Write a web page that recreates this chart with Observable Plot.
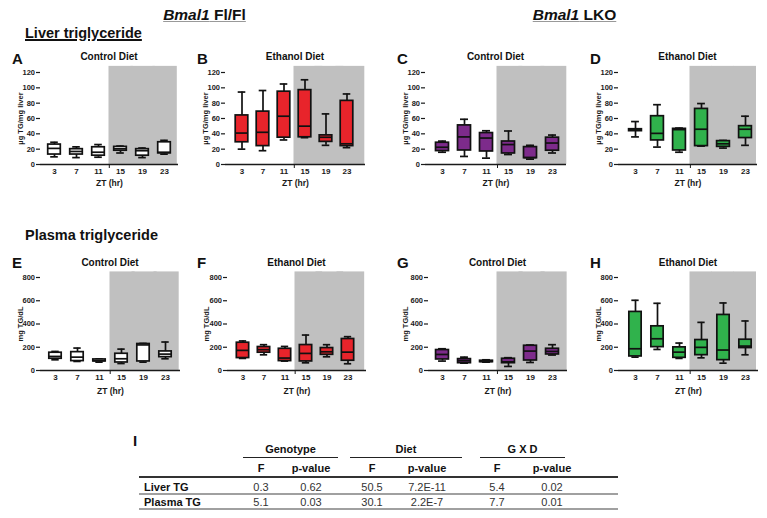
<!DOCTYPE html>
<html>
<head>
<meta charset="utf-8">
<script src="https://cdn.jsdelivr.net/npm/d3@7"></script>
<script src="https://cdn.jsdelivr.net/npm/@observablehq/plot@0.6"></script>
<style>
  html, body { margin: 0; padding: 0; background: #fff; }
  #wrap { position: relative; width: 767px; height: 518px; overflow: hidden; background: #fff;
          font-family: "Liberation Sans", Arial, Helvetica, sans-serif; color: #111; }
  .abs { position: absolute; white-space: nowrap; }
  .c { transform: translate(-50%, -50%); }
  .l { transform: translate(0, -50%); }
  .panel svg { overflow: visible; }
</style>
</head>
<body>
<div id="wrap"></div>
<script>
// ---------------- DATA ----------------
const ZT = ["3", "7", "11", "15", "19", "23"];
const darkZT = ["15", "19", "23"];

// box summaries per ZT: [min, q1, median, q3, max]
const liverFloxControl = [[10,13,21,26,29],[9,13,17,20,23],[9.5,11.5,16,22.5,26],[15,18,20.5,23,24],[9,11.5,18,20,21.5],[13.5,14.5,16,29,31.5]];
const liverFloxEthanol = [[20,29,41,64,94.5],[18,24,42,69,96.5],[32,35,63,95,105],[35,35.5,50,97,110.5],[25,29.5,35.5,38,66],[22,24,27,83,92]];
const liverLkoControl  = [[16,17.5,22.5,28.4,30.5],[10.5,18.3,36,51,59],[8.3,17,34.5,41,44],[13,14.4,26,30,43.7],[7,8.3,9,22.7,25],[15,18,28,35,38.4]];
const liverLkoEthanol  = [[36,43.5,45,46,56],[22.7,31.4,40.6,63,78],[16,18.3,45.5,46.5,47.5],[24,24,46,72.5,79.5],[21.4,23,27,30.5,31.4],[25,34.5,46,50,63]];
const plasmaFloxControl = [[92,101,121,153,164],[78,81,115,158,193],[72,78,85,95,100],[60,69,101,144,184],[72,78,220,228,233],[101,115,141,164,245]];
const plasmaFloxEthanol = [[104,107,173,239,254],[135,153,179,202,222],[81,81,107,187,207],[66,78,147,219,305],[118,135,161,193,222],[58,84,158,271,291]];
const plasmaLkoControl  = [[81,95,138,176,187],[63,63,84,98,115],[72,72,78,84,92],[35,63,75,101,110],[69,86,167,213,219],[133,138,164,187,222]];
const plasmaLkoEthanol  = [[115,121,187,504,604],[181,201,273,380,578],[104,109,158,199,236],[109,132,199,262,414],[63,89,176,478,581],[135,193,210,265,426]];

const liverTicks = [0, 20, 40, 60, 80, 100, 120];
const plasmaTicks = [0, 200, 400, 600, 800];

// ANOVA table
const anovaGroups = ["Genotype", "Diet", "G X D"];
const anovaSub = ["F", "p-value", "F", "p-value", "F", "p-value"];
const anovaRows = ["Liver TG", "Plasma TG"];
const liverStats = ["0.3", "0.62", "50.5", "7.2E-11", "5.4", "0.02"];
const plasmaStats = ["5.1", "0.03", "30.1", "2.2E-7", "7.7", "0.01"];

// ---------------- LAYOUT / STYLE ----------------
const FONT = '"Liberation Sans", Arial, Helvetica, sans-serif';
const rows = [
  {top: 72, bottom: 164, max: 120, shadeTop: 128, ticks: liverTicks, ylabel: "µg TG/mg liver", xlabDy: 21, titleY: 56, letterY: 58},
  {top: 277, bottom: 370, max: 800, shadeTop: 848, ticks: plasmaTicks, ylabel: "mg TG/dL", xlabDy: 23, titleY: 262, letterY: 262}
];
const panels = [
  {row: 0, letter: "A", title: "Control Diet", values: liverFloxControl, fill: "#ffffff", axis: 40,  right: 178, first: 53,    last: 165,   ylabX: 20,  letterX: 12},
  {row: 0, letter: "B", title: "Ethanol Diet", values: liverFloxEthanol, fill: "#e8242b", axis: 225, right: 365, first: 240,   last: 347,   ylabX: 205, letterX: 197},
  {row: 0, letter: "C", title: "Control Diet", values: liverLkoControl,  fill: "#7d2b8b", axis: 425, right: 566, first: 441.7, last: 551.7, ylabX: 405, letterX: 397},
  {row: 0, letter: "D", title: "Ethanol Diet", values: liverLkoEthanol,  fill: "#30b24c", axis: 618, right: 757, first: 635,   last: 746.7, ylabX: 598, letterX: 590},
  {row: 1, letter: "E", title: "Control Diet", values: plasmaFloxControl, fill: "#ffffff", axis: 40,  right: 180, first: 53,    last: 166,   ylabX: 20,  letterX: 12},
  {row: 1, letter: "F", title: "Ethanol Diet", values: plasmaFloxEthanol, fill: "#e8242b", axis: 227, right: 366, first: 240.7, last: 349,   ylabX: 206, letterX: 197},
  {row: 1, letter: "G", title: "Control Diet", values: plasmaLkoControl,  fill: "#7d2b8b", axis: 428, right: 567, first: 441.7, last: 552.3, ylabX: 405, letterX: 397},
  {row: 1, letter: "H", title: "Ethanol Diet", values: plasmaLkoEthanol,  fill: "#30b24c", axis: 618, right: 758, first: 633.3, last: 747.3, ylabX: 598, letterX: 590}
];

const wrap = document.getElementById("wrap");
function addText(html, x, y, style, cls) {
  const d = document.createElement("div");
  d.className = "abs " + (cls || "c");
  d.style.left = x + "px";
  d.style.top = y + "px";
  Object.assign(d.style, style || {});
  d.innerHTML = html;
  wrap.appendChild(d);
  return d;
}
function addLine(x1, x2, y, w, color) {
  const d = document.createElement("div");
  d.className = "abs";
  Object.assign(d.style, {left: x1 + "px", top: (y - w / 2) + "px", width: (x2 - x1) + "px", height: w + "px", background: color});
  wrap.appendChild(d);
}

// headers
addText("<i>Bmal1</i> Fl/Fl", 204.5, 15, {fontSize: "15.5px", fontWeight: "bold", textDecoration: "underline", textDecorationColor: "#999", textDecorationThickness: "1px"});
addText("<i>Bmal1</i> LKO", 574.5, 15, {fontSize: "15.5px", fontWeight: "bold", textDecoration: "underline", textDecorationColor: "#999", textDecorationThickness: "1px"});
addText("Liver triglyceride", 25, 33, {fontSize: "14.5px", fontWeight: "bold", textDecoration: "underline", textDecorationThickness: "1.5px"}, "l");
addText("Plasma triglyceride", 25, 235, {fontSize: "14.5px", fontWeight: "bold"}, "l");

// ---------------- PANELS ----------------
const ML = 42, MR = 4, MT = 14, MB = 34;
panels.forEach(p => {
  const r = rows[p.row];
  const data = p.values.map((v, i) => ({zt: ZT[i], min: v[0], q1: v[1], med: v[2], q3: v[3], max: v[4]}));
  const frameW = p.right - p.axis;
  const frameH = r.bottom - r.top;
  const bwEst = (p.last - p.first) / 5;
  const insL = Math.max(0, p.first - bwEst / 2 - p.axis);
  const insR = Math.max(0, p.right - (p.last + bwEst / 2));
  const bw = (frameW - insL - insR) / 6;
  const boxInset = (bw - 13) / 2;
  const capInset = (bw - 8) / 2;
  const unitPerPx = r.max / frameH;

  const plot = Plot.plot({
    width: ML + frameW + MR,
    height: MT + frameH + MB,
    marginLeft: ML, marginRight: MR, marginTop: MT, marginBottom: MB,
    style: {fontFamily: FONT, fontSize: "7.5px", fontWeight: "bold", color: "#1a1a1a", background: "transparent", overflow: "visible"},
    x: {type: "band", domain: ZT, padding: 0, insetLeft: insL, insetRight: insR},
    y: {domain: [0, r.max]},
    marks: [
      Plot.barY(darkZT, {x: d => d, y1: 0, y2: r.shadeTop, fill: "#c0c0c0", insetLeft: -0.5, insetRight: -insR}),
      Plot.ruleY([0], {stroke: "#1a1a1a", strokeWidth: 1.3}),
      Plot.ruleX(["15"], {x: d => d, y1: 0, y2: -4 * unitPerPx, dx: -bw / 2, stroke: "#1a1a1a", strokeWidth: 1}),
      Plot.axisY({ticks: r.ticks, tickSize: 4, tickPadding: 1.5, line: true, label: null, fontSize: 7.5, fontWeight: "bold", stroke: "#1a1a1a", strokeWidth: 1.2}),
      Plot.axisX({tickSize: 0, tickPadding: 4, label: null, fontSize: 8, fontWeight: "bold"}),
      Plot.ruleX(data, {x: "zt", y1: "min", y2: "q1", stroke: "#111", strokeWidth: 1.7}),
      Plot.ruleX(data, {x: "zt", y1: "q3", y2: "max", stroke: "#111", strokeWidth: 1.7}),
      Plot.tickY(data, {x: "zt", y: "min", insetLeft: capInset, insetRight: capInset, stroke: "#111", strokeWidth: 1.7}),
      Plot.tickY(data, {x: "zt", y: "max", insetLeft: capInset, insetRight: capInset, stroke: "#111", strokeWidth: 1.7}),
      Plot.barY(data, {x: "zt", y1: "q1", y2: "q3", fill: p.fill, stroke: "#111", strokeWidth: 1.7, insetLeft: boxInset, insetRight: boxInset}),
      Plot.tickY(data, {x: "zt", y: "med", insetLeft: boxInset, insetRight: boxInset, stroke: "#111", strokeWidth: 1.7}),
      Plot.text(["ZT (hr)"], {frameAnchor: "bottom", dy: r.xlabDy, fontSize: 8.5, fontWeight: "bold", fill: "#1a1a1a"}),
      Plot.text([r.ylabel], {frameAnchor: "left", textAnchor: "middle", rotate: -90, dx: -(p.axis - p.ylabX), fontSize: 7.5, fontWeight: "bold", fill: "#1a1a1a"})
    ]
  });
  const holder = document.createElement("div");
  holder.className = "abs panel";
  holder.style.left = (p.axis - ML) + "px";
  holder.style.top = (r.top - MT) + "px";
  holder.appendChild(plot);
  wrap.appendChild(holder);

  addText(p.title, (p.axis + p.right) / 2, r.titleY, {fontSize: "10px", fontWeight: "bold"});
  addText(p.letter, p.letterX, r.letterY, {fontSize: "15px", fontWeight: "bold"}, "l");
});

// ---------------- TABLE ----------------
const colX = [261, 311, 372, 427, 497, 552];
const groupX = [[243, 338], [350, 462], [480, 565]];
const tbl = {letterY: 440, groupY: 449, groupLine: 457, subY: 468, headLine: 477, rowY: [487, 502], rowLines: [494, 509], left: 139, right: 618, labelX: 144};
addText("I", 133, tbl.letterY, {fontSize: "15px", fontWeight: "bold"}, "l");
anovaGroups.forEach((g, i) => {
  addText(g, (groupX[i][0] + groupX[i][1]) / 2, tbl.groupY, {fontSize: "11px", fontWeight: "bold"});
  addLine(groupX[i][0], groupX[i][1], tbl.groupLine, 1, "#222");
});
anovaSub.forEach((s, i) => addText(s, colX[i], tbl.subY, {fontSize: "11px", fontWeight: "bold"}));
addLine(tbl.left, tbl.right, tbl.headLine, 1.6, "#333");
[liverStats, plasmaStats].forEach((vals, ri) => {
  addText(anovaRows[ri], tbl.labelX, tbl.rowY[ri], {fontSize: "11px", fontWeight: "bold"}, "l");
  vals.forEach((v, i) => addText(v, colX[i], tbl.rowY[ri], {fontSize: "11px", color: "#333"}));
  addLine(tbl.left, tbl.right, tbl.rowLines[ri], 1.2, "#a0a0a0");
});
</script>
</body>
</html>
